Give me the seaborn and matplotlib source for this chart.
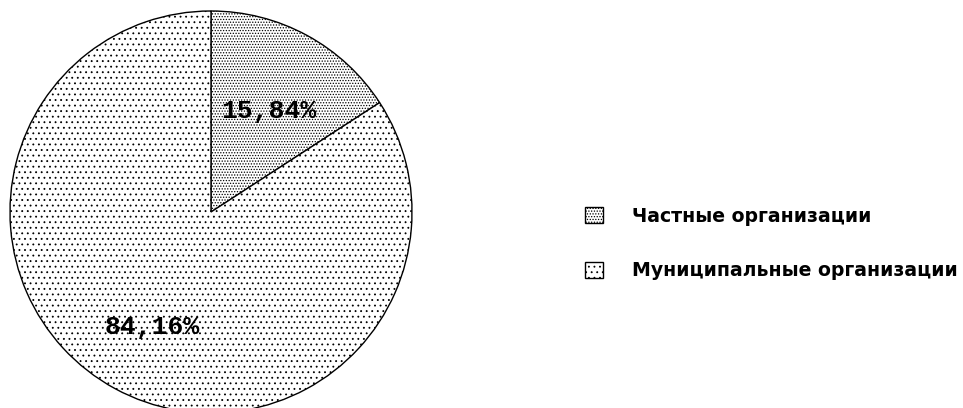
import matplotlib
matplotlib.use("Agg")
import matplotlib.pyplot as plt
import seaborn as sns
from matplotlib.patches import Patch

categories = ["Частные организации", "Муниципальные организации"]
values = [15.84, 84.16]
labels = ["15,84%", "84,16%"]
hatches = ["......", "..."]

sns.set_style("white")
plt.rcParams["hatch.linewidth"] = 0.6

fig = plt.figure(figsize=(9.63, 4.08), dpi=100)
ax = fig.add_axes([10/963, -5/408, 402/963, 402/408])

wedges, _ = ax.pie(values, startangle=90, counterclock=False,
                   colors=["white", "white"],
                   wedgeprops=dict(edgecolor="black", linewidth=1.0))
for w, h in zip(wedges, hatches):
    w.set_hatch(h)
ax.set_xlim(-1, 1)
ax.set_ylim(-1, 1)
ax.set_aspect("equal")
ax.axis("off")

label_pos = [(0.29, 0.50), (-0.29, -0.57)]
for (x, y), t in zip(label_pos, labels):
    ax.text(x, y, t, ha="center", va="center", fontsize=19, color="black",
            fontweight="bold", family="Liberation Mono")

handles = [Patch(facecolor="white", edgecolor="black", hatch=h, linewidth=1.0)
           for h in hatches]
leg = fig.legend(handles, categories, loc="center left",
                 bbox_to_anchor=(568/963, 1 - 243.5/408), frameon=False,
                 prop=dict(size=13.6, weight="bold", family="DejaVu Sans"),
                 handlelength=0.97, handleheight=0.97, handletextpad=1.5,
                 labelspacing=1.9)
for t in leg.get_texts():
    t.set_color("black")

fig.savefig("out.png", dpi=100)
